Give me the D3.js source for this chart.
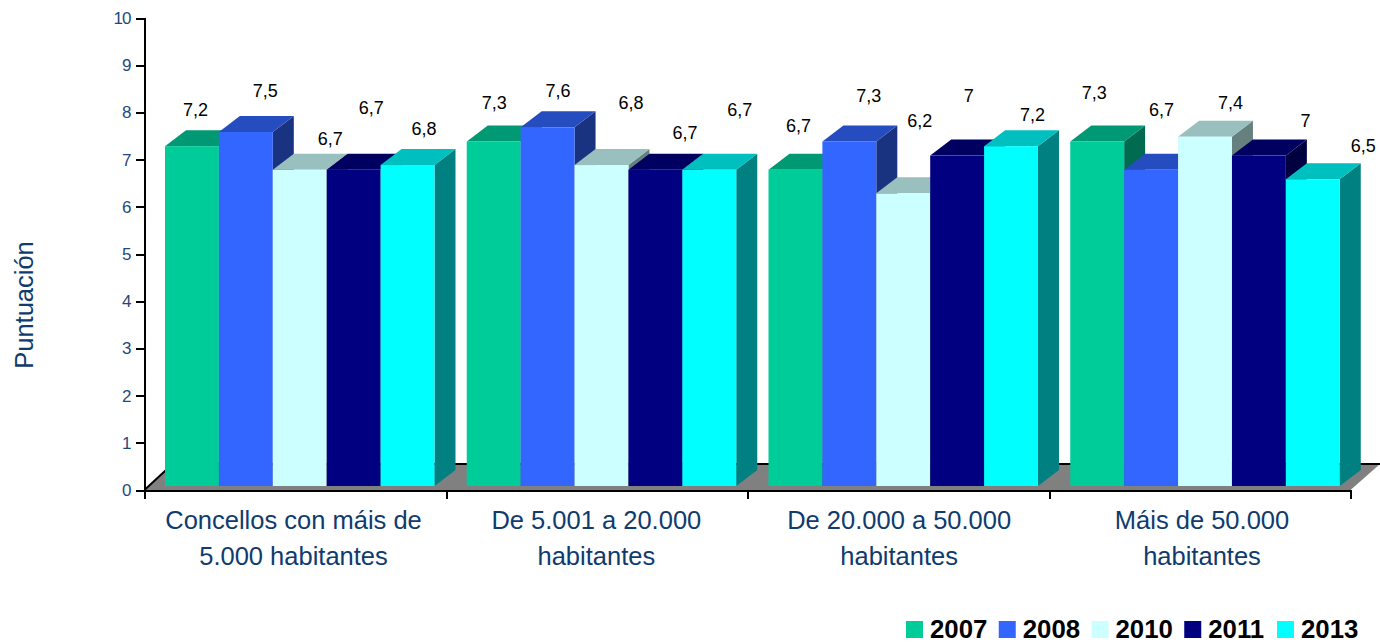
<!DOCTYPE html>
<html><head><meta charset="utf-8">
<script src="https://cdn.jsdelivr.net/npm/d3@7"></script>
<style>
html,body{margin:0;padding:0;background:#fff;overflow:hidden}
text{font-family:"Liberation Sans",Arial,sans-serif}
.axis path,.axis line{stroke:#000;stroke-width:2;shape-rendering:crispEdges}
</style></head><body>
<svg id="c" width="1380" height="643"></svg>
<script>
const categories = [["Concellos con máis de","5.000 habitantes"],["De 5.001 a 20.000","habitantes"],["De 20.000 a 50.000","habitantes"],["Máis de 50.000","habitantes"]];
const years = ["2007","2008","2010","2011","2013"];
const values2007 = [7.2,7.3,6.7,7.3];
const values2008 = [7.5,7.6,7.3,6.7];
const values2010 = [6.7,6.8,6.2,7.4];
const values2011 = [6.7,6.7,7.0,7.0];
const values2013 = [6.8,6.7,7.2,6.5];
const yTicks = [0,1,2,3,4,5,6,7,8,9,10];
const seriesValues = [values2007,values2008,values2010,values2011,values2013];
const faces = [["#00CC99","#009973","#006B50"],["#3366FF","#264DBF","#1A3380"],["#CCFFFF","#99BFBF","#668080"],["#000080","#000060","#000040"],["#00FFFF","#00BFBF","#008080"]];
// hand-placed label nudges in the source chart, per group then per series
const labelNudges = [
 [[3,-36],[19,-41],[30,-31],[17,-62],[16,-36]],
 [[0,-38],[10,-36],[29,-62],[29,-37],[30,-60]],
 [[2.5,-44],[19,-45],[16,-72],[11,-60],[21,-31]],
 [[-3.5,-48],[10,-60],[25,-34],[46,-35],[50,-33]]];

const svg = d3.select("#c");
const left=144.5,right=1350.5,y0=490,y10=18,depthX=21,depthY=16,baseLift=4;
const y = d3.scaleLinear().domain([0,10]).range([y0,y10]);
const xTicks = d3.scaleLinear().domain([0,categories.length]).range([left,right]);
const xGroup = d3.scaleBand().domain(d3.range(categories.length)).range([left,right+1]);
const xBar = d3.scaleBand().domain(d3.range(years.length)).range([20.5,290]);
const xCategory = d3.scalePoint().domain(d3.range(categories.length)).range([293.5,1202]);

// floor
svg.append("polygon").attr("points",[[left,y0],[right,y0],[1380,464],[left+28,464]].join(" ")).attr("fill","#808080");
svg.append("path").attr("d",`M${left},${y0}L${left+28},464L1380,464`).attr("fill","none").attr("stroke","#000").attr("stroke-width",2);

// bars
categories.forEach((c,g)=>{
  years.forEach((yr,s)=>{
    const v=seriesValues[s][g], X=xGroup(g)+xBar(s), W=xBar.bandwidth(), T=y(v)-baseLift, B=y0-baseLift;
    const b=svg.append("g");
    b.append("polygon").attr("fill",faces[s][2]).attr("points",[[X+W,T],[X+W+depthX,T-depthY],[X+W+depthX,B-depthY],[X+W,B]].join(" "));
    b.append("polygon").attr("fill",faces[s][1]).attr("points",[[X,T],[X+depthX,T-depthY],[X+W+depthX,T-depthY],[X+W,T]].join(" "));
    b.append("rect").attr("x",X).attr("y",T).attr("width",W).attr("height",B-T).attr("fill",faces[s][0]);
  });
});

// axes
const gy=svg.append("g").attr("class","axis").attr("transform",`translate(${left},0)`)
  .call(d3.axisLeft(y).tickValues(yTicks).tickSize(9).tickPadding(4).tickFormat(d3.format("d")));
gy.selectAll("text").attr("font-size",17).attr("fill","#1F497D").attr("letter-spacing","-1px").attr("dx",-1).style("font-family",'"Liberation Sans"');
const gx=svg.append("g").attr("class","axis").attr("transform",`translate(0,${y0+1})`)
  .call(d3.axisBottom(xTicks).ticks(categories.length).tickSize(8).tickFormat(""));
gx.select("path").attr("d",`M${left-1},0H${right+1}`);

// labels
categories.forEach((c,g)=>{
  years.forEach((yr,s)=>{
    const v=seriesValues[s][g], n=labelNudges[g][s];
    svg.append("text").attr("x",xGroup(g)+xBar(s)+xBar.bandwidth()/2+n[0]+0.5).attr("y",y(v)-baseLift+n[1]+6)
      .attr("text-anchor","middle").attr("font-size",18).attr("fill","#000").text(String(v).replace(".",","));
  });
  c.forEach((line,i)=>{
    svg.append("text").attr("x",xCategory(g)).attr("y",529+i*35.5)
      .attr("text-anchor","middle").attr("font-size",25.5).attr("fill","#0F3B6E").text(line);
  });
});

// y title
svg.append("text").attr("transform","translate(33,305) rotate(-90)").attr("text-anchor","middle")
  .attr("font-size",25.5).attr("fill","#0F3B6E").text("Puntuación");

// legend
const xLegend=d3.scalePoint().domain(years).range([906,1277]);
years.forEach((yr,s)=>{
  svg.append("rect").attr("x",xLegend(yr)).attr("y",621).attr("width",17).attr("height",17).attr("fill",faces[s][0]);
  svg.append("text").attr("x",xLegend(yr)+24).attr("y",638).attr("font-size",25.8).attr("font-weight","bold").attr("fill","#000").text(yr);
});
</script></body></html>
